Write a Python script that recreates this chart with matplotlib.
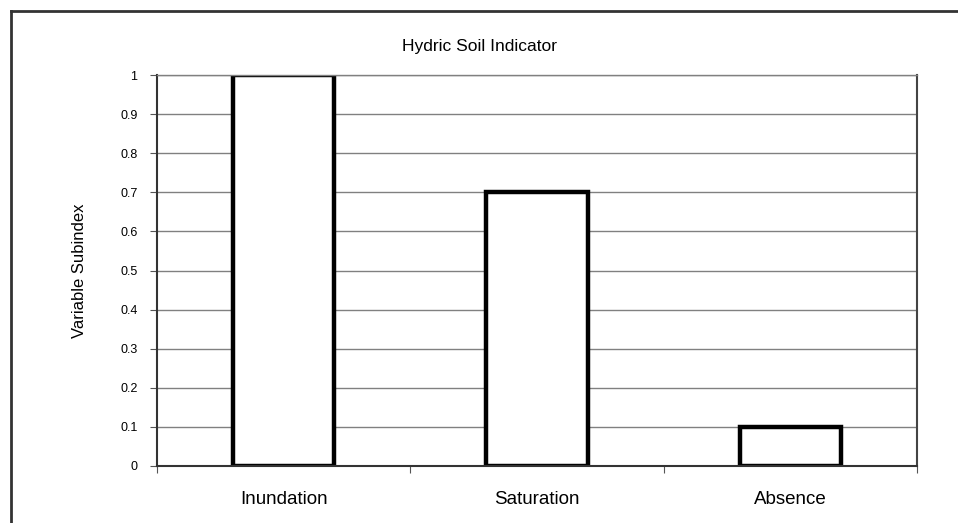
import numpy as np
import matplotlib.pyplot as plt
from matplotlib.lines import Line2D

categories = ['Inundation', 'Saturation', 'Absence']
subindex = [1.0, 0.7, 0.1]
yticks = [0, 0.1, 0.2, 0.3, 0.4, 0.5, 0.6, 0.7, 0.8, 0.9, 1.0]
ytick_labels = ['0', '0.1', '0.2', '0.3', '0.4', '0.5', '0.6', '0.7', '0.8', '0.9', '1']

plt.rcParams['font.family'] = ['Liberation Sans', 'DejaVu Sans']

fig = plt.figure(figsize=(9.58, 5.23), dpi=100)
ax = fig.add_axes([157 / 958, 57 / 523, 760 / 958, 391 / 523])

x = np.arange(len(categories))
ax.set_axisbelow(True)
ax.yaxis.grid(True, color='#808080', linewidth=1.0)
ax.bar(x, subindex, width=0.4, color='white', edgecolor='black', linewidth=3.2)

ax.set_xlim(-0.5, len(categories) - 0.5)
ax.set_ylim(0, 1)
ax.set_yticks(yticks)
ax.set_yticklabels(ytick_labels, fontsize=9)
# category boundaries carry the tick marks, names sit between them
ax.set_xticks(np.arange(-0.5, len(categories)), minor=False)
ax.set_xticklabels([])
ax.set_xticks(x, minor=True)
ax.set_xticklabels(categories, minor=True, fontsize=13.5)
ax.tick_params(axis='x', which='minor', length=0, pad=18)
ax.tick_params(axis='x', which='major', length=5, color='#555555')
ax.tick_params(axis='y', length=5, color='#555555', pad=9)

for side in ['left', 'bottom']:
    ax.spines[side].set_color('#333333')
    ax.spines[side].set_linewidth(1.5)
ax.spines['right'].set_color('#444444')
ax.spines['right'].set_linewidth(1.5)
ax.spines['top'].set_color('#808080')
ax.spines['top'].set_linewidth(1.0)

ax.set_ylabel('Variable Subindex', fontsize=12, labelpad=24)
fig.text(0.5, 1 - 47 / 523, 'Hydric Soil Indicator', ha='center', va='center', fontsize=12.5)

# outer frame (top and left edges only)
fig.add_artist(Line2D([11 / 958, 1], [1 - 11 / 523, 1 - 11 / 523], transform=fig.transFigure,
                      color='#333333', linewidth=2))
fig.add_artist(Line2D([11 / 958, 11 / 958], [0, 1 - 11 / 523], transform=fig.transFigure,
                      color='#333333', linewidth=2))

fig.savefig('out.png', dpi=100)
